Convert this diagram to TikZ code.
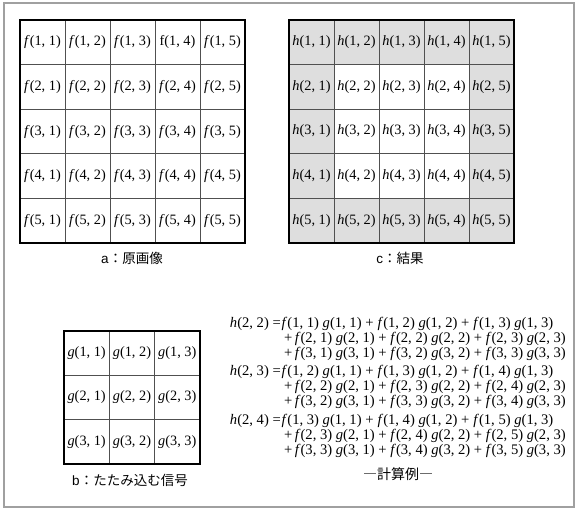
\documentclass[tikz,border=0pt]{standalone}
\usepackage{fontspec}
\setmainfont{Liberation Serif}
\newfontfamily\jpfont{Noto Sans CJK JP}
\newfontfamily\labfont{Liberation Sans}
\newcommand\fv[2]{\textit{f}(#1, #2)}
\newcommand\gv[2]{\textit{g}(#1, #2)}
\newcommand\hv[2]{\textit{h}(#1, #2)}
\newcommand\wplus{+\hspace{4pt}}
\definecolor{cgray}{HTML}{DEDEDE}
\definecolor{framegray}{HTML}{A0A0A0}
\definecolor{linegray}{HTML}{505050}
\tikzset{
  cell/.style={draw=linegray, line width=0.7pt, inner sep=0pt, minimum width=45pt, minimum height=44.6pt, font=\fontsize{14.3}{15}\selectfont},
  outerbox/.style={draw=black, line width=2pt},
  eqline/.style={inner sep=0pt, anchor=base west, font=\fontsize{14.6}{15}\selectfont},
  caption/.style={inner sep=0pt, font=\fontsize{13.5}{15}\selectfont},
  framebox/.style={draw=framegray, line width=1.3pt}
}
\begin{document}
\begin{tikzpicture}[x=1pt,y=-1pt]
\useasboundingbox (0,0) rectangle (581,513);
\draw[framebox] (4,3) rectangle (574,507);
% grid a
\foreach \r in {1,...,5}{
  \foreach \c in {1,...,5}{
    \ifnum\r=1 \ifnum\c=4 \def\fl{f}\else\def\fl{\textit{f}}\fi\else\def\fl{\textit{f}}\fi
    \node[cell] (a-\r-\c) at ({20+45*(\c-0.5)},{20+44.6*(\r-0.5)}) {\fl(\r, \c)};
  }
}
\draw[outerbox] (a-1-1.north west) rectangle (a-5-5.south east);
\node[caption] (capa) at (132,258) {{\labfont a}{\jpfont ：原画像}};
% grid c
\foreach \r in {1,...,5}{
  \foreach \c in {1,...,5}{
    \pgfmathtruncatemacro\inn{((\r>1)&&(\r<5)&&(\c>1)&&(\c<5))}
    \ifnum\inn=1 \def\cf{white}\else\def\cf{cgray}\fi
    \node[cell, fill=\cf] (c-\r-\c) at ({289+45*(\c-0.5)},{20+44.6*(\r-0.5)}) {\hv{\r}{\c}};
  }
}
\draw[outerbox] (c-1-1.north west) rectangle (c-5-5.south east);
\node[caption] (capc) at (400,258) {{\labfont c}{\jpfont ：結果}};
% grid b
\foreach \r in {1,...,3}{
  \foreach \c in {1,...,3}{
    \node[cell, minimum height=44.3pt] (b-\r-\c) at ({64+45.3*(\c-0.5)},{331+44.3*(\r-0.5)}) {\gv{\r}{\c}};
  }
}
\draw[outerbox] (b-1-1.north west) rectangle (b-3-3.south east);
\node[caption] (capb) at (130,480) {{\labfont b}{\jpfont ：たたみ込む信号}};
% equations
\node[eqline, anchor=base east] (e1h) at (281,327) {\hv{2}{2} =};
\node[eqline] (e1a) at (281.5,327) {\fv11 \gv11 \wplus\fv12 \gv12 \wplus\fv13 \gv13};
\node[eqline] (e1b) at (284,342) {+\,\fv21 \gv21 + \fv22 \gv22 + \fv23 \gv23};
\node[eqline] (e1c) at (284,357) {+\,\fv31 \gv31 + \fv32 \gv32 + \fv33 \gv33};
\node[eqline, anchor=base east] (e2h) at (281,375) {\hv{2}{3} =};
\node[eqline] (e2a) at (281.5,375) {\fv12 \gv11 \wplus\fv13 \gv12 \wplus\fv14 \gv13};
\node[eqline] (e2b) at (284,390) {+\,\fv22 \gv21 + \fv23 \gv22 + \fv24 \gv23};
\node[eqline] (e2c) at (284,405) {+\,\fv32 \gv31 + \fv33 \gv32 + \fv34 \gv33};
\node[eqline, anchor=base east] (e3h) at (281,424) {\hv{2}{4} =};
\node[eqline] (e3a) at (281.5,424) {\fv13 \gv11 \wplus\fv14 \gv12 \wplus\fv15 \gv13};
\node[eqline] (e3b) at (284,439) {+\,\fv23 \gv21 + \fv24 \gv22 + \fv25 \gv23};
\node[eqline] (e3c) at (284,454) {+\,\fv33 \gv31 + \fv34 \gv32 + \fv35 \gv33};
\node[caption, font=\fontsize{14}{15}\selectfont] (cape) at (398,474) {\jpfont ―計算例―};
\end{tikzpicture}
\end{document}
